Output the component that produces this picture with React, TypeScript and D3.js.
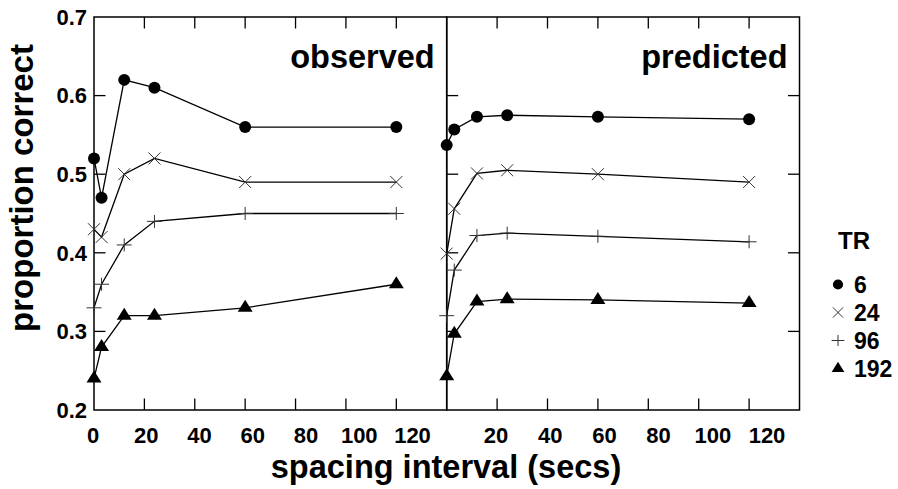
import * as d3 from 'd3';

// spacing interval (secs) for every series
const spacing = [0, 3, 12, 24, 60, 120];
const trLevels = ['6', '24', '96', '192'];

// observed proportion correct, one array per TR
const observed6 = [0.52, 0.47, 0.62, 0.61, 0.56, 0.56];
const observed24 = [0.43, 0.42, 0.5, 0.52, 0.49, 0.49];
const observed96 = [0.33, 0.36, 0.41, 0.44, 0.45, 0.45];
const observed192 = [0.24, 0.28, 0.32, 0.32, 0.33, 0.36];

// model predictions
const predicted6 = [0.537, 0.557, 0.573, 0.575, 0.573, 0.57];
const predicted24 = [0.399, 0.456, 0.501, 0.505, 0.5, 0.49];
const predicted96 = [0.32, 0.378, 0.422, 0.425, 0.421, 0.414];
const predicted192 = [0.243, 0.297, 0.338, 0.341, 0.34, 0.336];

const yTicks = [0.2, 0.3, 0.4, 0.5, 0.6, 0.7];
const xTicks = [20, 40, 60, 80, 100, 120];
const leftXLabels = [0, 20, 40, 60, 80, 100, 120];
const rightXLabels = [20, 40, 60, 80, 100, 120];

const W = 898;
const H = 489;
const top = 17;
const bottom = 410;
const leftL = 94;
const mid = 446.7;
const rightR = 799.5;
const tickLen = 11.5;
const font = '"Liberation Sans", Arial, Helvetica, sans-serif';

const y = d3.scaleLinear().domain([0.2, 0.7]).range([bottom, top]);
const xObs = d3.scaleLinear().domain([0, 140]).range([leftL, mid]);
const xPred = d3.scaleLinear().domain([0, 140]).range([mid, rightR]);
// tick labels in the original sit slightly off their ticks
const xObsLabel = d3.scaleLinear().domain([0, 120]).range([93, 412.5]);
const xPredLabel = d3.scaleLinear().domain([20, 120]).range([496, 767]);

type Marker = 'circle' | 'x' | 'plus' | 'triangle';
const markers: Marker[] = ['circle', 'x', 'plus', 'triangle'];

function Mark({ type, cx, cy, s = 1 }: { type: Marker; cx: number; cy: number; s?: number }) {
  if (type === 'circle') return <circle cx={cx} cy={cy} r={6 * s} fill="#000" />;
  if (type === 'triangle') {
    const hw = 7.5 * s, h = 12 * s;
    const p = d3.path();
    p.moveTo(cx - hw, cy + h / 3);
    p.lineTo(cx + hw, cy + h / 3);
    p.lineTo(cx, cy - (2 * h) / 3);
    p.closePath();
    return <path d={p.toString()} fill="#000" />;
  }
  if (type === 'x') {
    const r = 6 * s;
    const p = d3.path();
    p.moveTo(cx - r, cy - r); p.lineTo(cx + r, cy + r);
    p.moveTo(cx - r, cy + r); p.lineTo(cx + r, cy - r);
    return <path d={p.toString()} stroke="#333" strokeWidth={1} fill="none" />;
  }
  const hw = 7.5 * s, hh = 6.5 * s;
  const p = d3.path();
  p.moveTo(cx - hw, cy); p.lineTo(cx + hw, cy);
  p.moveTo(cx, cy - hh); p.lineTo(cx, cy + hh);
  return <path d={p.toString()} stroke="#333" strokeWidth={1} fill="none" />;
}

function Panel({ x, series, x0, x1, label, leftTicks }: {
  x: d3.ScaleLinear<number, number>;
  series: number[][];
  x0: number;
  x1: number;
  label: string;
  leftTicks: boolean;
}) {
  const line = d3.line<number>().x((_, i) => x(spacing[i])).y((v) => y(v));
  const inner = yTicks.slice(1, -1);
  return (
    <g>
      <rect x={x0} y={top} width={x1 - x0} height={bottom - top} fill="none" stroke="#000" strokeWidth={1.5} />
      {xTicks.map((t) => (
        <g key={t} stroke="#000" strokeWidth={1.3}>
          <line x1={x(t)} x2={x(t)} y1={top} y2={top + tickLen} />
          <line x1={x(t)} x2={x(t)} y1={bottom} y2={bottom - tickLen} />
        </g>
      ))}
      {inner.map((t) => (
        <g key={t} stroke="#000" strokeWidth={1.3}>
          <line x1={x0} x2={x0 + tickLen} y1={y(t)} y2={y(t)} />
          {!leftTicks && <line x1={x1} x2={x1 - tickLen} y1={y(t)} y2={y(t)} />}
        </g>
      ))}
      {series.map((vals, si) => (
        <g key={si}>
          <path d={line(vals) ?? ''} fill="none" stroke="#000" strokeWidth={1.3} />
          {vals.map((v, i) => (
            <Mark key={i} type={markers[si]} cx={x(spacing[i])} cy={y(v)} />
          ))}
        </g>
      ))}
      <text x={x1 - 12} y={68} textAnchor="end" fontSize={32.5} fontWeight="bold" fontFamily={font}>
        {label}
      </text>
    </g>
  );
}

export default function App() {
  return (
    <svg width={W} height={H} style={{ position: 'absolute', left: 0, top: 0, background: '#fff' }}>
      <Panel x={xObs} series={[observed6, observed24, observed96, observed192]} x0={leftL} x1={mid} label="observed" leftTicks />
      <Panel x={xPred} series={[predicted6, predicted24, predicted96, predicted192]} x0={mid} x1={rightR} label="predicted" leftTicks={false} />

      {yTicks.map((t) => (
        <text key={t} x={87} y={y(t)} dy="0.35em" textAnchor="end" fontSize={22} fontWeight="bold" fontFamily={font}>
          {t.toFixed(1)}
        </text>
      ))}
      {leftXLabels.map((t) => (
        <text key={'l' + t} x={xObsLabel(t)} y={443} textAnchor="middle" fontSize={22} fontWeight="bold" fontFamily={font}>
          {t}
        </text>
      ))}
      {rightXLabels.map((t) => (
        <text key={'r' + t} x={xPredLabel(t)} y={443} textAnchor="middle" fontSize={22} fontWeight="bold" fontFamily={font}>
          {t}
        </text>
      ))}

      <text x={446} y={478} textAnchor="middle" fontSize={32.5} fontWeight="bold" fontFamily={font}>
        spacing interval (secs)
      </text>
      <text transform="translate(33,188) rotate(-90)" textAnchor="middle" fontSize={33} fontWeight="bold" fontFamily={font}>
        proportion correct
      </text>

      <text x={838} y={249} fontSize={24} fontWeight="bold" fontFamily={font}>TR</text>
      {trLevels.map((lv, i) => (
        <g key={lv}>
          <Mark type={markers[i]} cx={838} cy={284.5 + i * 28} s={0.85} />
          <text x={854} y={284.5 + i * 28} dy="0.35em" fontSize={23} fontWeight="bold" fontFamily={font}>
            {lv}
          </text>
        </g>
      ))}
    </svg>
  );
}
